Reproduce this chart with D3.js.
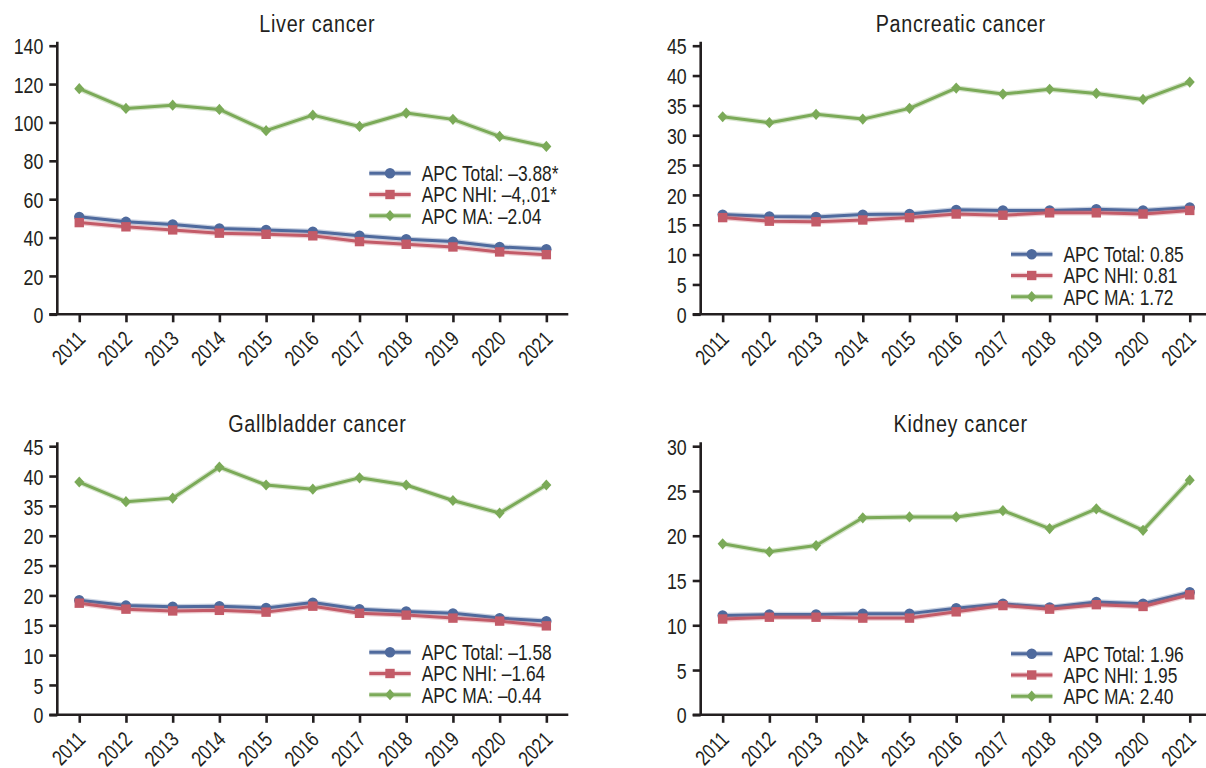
<!DOCTYPE html>
<html>
<head>
<meta charset="utf-8">
<script src="https://cdn.jsdelivr.net/npm/d3@7"></script>
<style>
  html, body { margin: 0; padding: 0; background: #fff; }
  svg { display: block; }
  text { font-family: "Liberation Sans", Arial, sans-serif; fill: #231f20; }
</style>
</head>
<body>
<svg id="chart" width="1206" height="768"></svg>
<script>
// Incidence per year, 2011-2021
const years = ["2011","2012","2013","2014","2015","2016","2017","2018","2019","2020","2021"];

const liverTotal = [50.8, 48.2, 46.8, 44.7, 44.0, 43.1, 41.0, 39.1, 37.9, 35.1, 33.9];
const liverNHI   = [47.8, 45.6, 44.0, 42.3, 41.7, 40.9, 37.9, 36.5, 35.1, 32.5, 31.1];
const liverMA    = [117.6, 107.3, 109.0, 106.8, 95.7, 103.8, 97.9, 104.9, 101.6, 92.7, 87.5];

const pancTotal = [16.7, 16.4, 16.3, 16.7, 16.8, 17.5, 17.4, 17.4, 17.6, 17.4, 17.9];
const pancNHI   = [16.2, 15.6, 15.5, 15.8, 16.2, 16.8, 16.6, 17.0, 17.0, 16.8, 17.4];
const pancMA    = [33.1, 32.1, 33.5, 32.7, 34.5, 37.9, 36.9, 37.7, 37.0, 36.0, 38.9];

const gallTotal = [19.2, 18.3, 18.1, 18.2, 17.9, 18.8, 17.7, 17.3, 17.0, 16.2, 15.7];
const gallNHI   = [18.7, 17.7, 17.4, 17.5, 17.2, 18.2, 17.0, 16.7, 16.2, 15.7, 14.9];
const gallMA    = [39.0, 35.7, 36.3, 41.5, 38.5, 37.8, 39.7, 38.5, 35.9, 33.8, 38.5];

const kidTotal = [11.1, 11.2, 11.2, 11.3, 11.3, 11.9, 12.4, 12.0, 12.6, 12.4, 13.7];
const kidNHI   = [10.7, 10.9, 10.9, 10.8, 10.8, 11.5, 12.2, 11.8, 12.3, 12.1, 13.4];
const kidMA    = [19.1, 18.2, 18.9, 22.0, 22.1, 22.1, 22.8, 20.8, 23.0, 20.6, 26.2];

// y-axis ticks and their printed labels
const liverTicks = [0, 20, 40, 60, 80, 100, 120, 140];
const pancTicks  = [0, 5, 10, 15, 20, 25, 30, 35, 40, 45];
const gallTicks  = [0, 5, 10, 15, 20, 25, 30, 35, 40, 45];
const gallTickLabels = ["0", "5", "10", "15", "20", "25", "20", "35", "40", "45"];
const kidTicks   = [0, 5, 10, 15, 20, 25, 30];

const titles = ["Liver cancer", "Pancreatic cancer", "Gallbladder cancer", "Kidney cancer"];
const liverLegend = ["APC Total: \u20133.88*", "APC NHI: \u20134,.01*", "APC MA: \u20132.04"];
const pancLegend  = ["APC Total: 0.85", "APC NHI: 0.81", "APC MA: 1.72"];
const gallLegend  = ["APC Total: \u20131.58", "APC NHI: \u20131.64", "APC MA: \u20130.44"];
const kidLegend   = ["APC Total: 1.96", "APC NHI: 1.95", "APC MA: 2.40"];

const seriesColors = ["#4f6a9d", "#c35b68", "#7baa58"];
const seriesShapes = ["circle", "square", "diamond"];

const panels = [
  { title: titles[0], series: [liverTotal, liverNHI, liverMA], ticks: liverTicks, tickLabels: null, legend: liverLegend,
    left: 57.3, bottom: 314.3, legendX: 369.3, legendY: 173.3 },
  { title: titles[1], series: [pancTotal, pancNHI, pancMA], ticks: pancTicks, tickLabels: null, legend: pancLegend,
    left: 700.7, bottom: 314.3, legendX: 1011, legendY: 254.3 },
  { title: titles[2], series: [gallTotal, gallNHI, gallMA], ticks: gallTicks, tickLabels: gallTickLabels, legend: gallLegend,
    left: 57.3, bottom: 714.8, legendX: 369.3, legendY: 652.3 },
  { title: titles[3], series: [kidTotal, kidNHI, kidMA], ticks: kidTicks, tickLabels: null, legend: kidLegend,
    left: 700.7, bottom: 714.8, legendX: 1011, legendY: 653.8 }
];

const plotW = 511;      // y-axis to end of x-axis
const plotH = 268.6;    // zero line to top tick
const axisColor = "#231f20";
const narrow = 0.79;    // horizontal squeeze for a condensed look

// marker path generator, centred at origin
function markerPath(shape) {
  if (shape === "circle") return d3.symbol(d3.symbolCircle, Math.PI * 5.2 * 5.2)();
  if (shape === "square") return d3.symbol(d3.symbolSquare, 9.4 * 9.4)();
  const w = 5, h = 5.6;
  return `M0,${-h}L${w},0L0,${h}L${-w},0Z`;
}

const svg = d3.select("#chart");

panels.forEach(p => {
  const g = svg.append("g");
  const yMax = p.ticks[p.ticks.length - 1];

  const x = d3.scalePoint().domain(years).range([p.left, p.left + plotW]).padding(0.47);
  const y = d3.scaleLinear().domain([0, yMax]).range([p.bottom, p.bottom - plotH]);

  // title
  g.append("text")
    .attr("transform", `translate(${p.left + 260},${p.bottom - 282.6}) scale(0.86,1)`)
    .attr("text-anchor", "middle")
    .style("font-size", "23px")
    .style("letter-spacing", "0.8px")
    .text(p.title);

  // y axis
  const yAxis = d3.axisLeft(y)
    .tickValues(p.ticks)
    .tickSize(8)
    .tickSizeOuter(0)
    .tickPadding(6)
    .tickFormat((d, i) => p.tickLabels ? p.tickLabels[i] : String(d));
  const ya = g.append("g").attr("transform", `translate(${p.left},0)`).call(yAxis);
  ya.select(".domain").remove();
  ya.selectAll(".tick line").attr("stroke", axisColor).attr("stroke-width", 2.6);
  ya.selectAll(".tick text")
    .style("font-size", "22.5px").attr("fill", axisColor)
    .attr("x", 0).attr("dy", "0.36em")
    .attr("transform", `translate(-14,0) scale(${narrow},1)`);
  g.append("line")
    .attr("x1", p.left).attr("x2", p.left)
    .attr("y1", y(0)).attr("y2", y(yMax) - 4)
    .attr("stroke", axisColor).attr("stroke-width", 2.6);

  // x axis
  const xAxis = d3.axisBottom(x).tickSize(8).tickSizeOuter(0);
  const xa = g.append("g").attr("transform", `translate(0,${p.bottom})`).call(xAxis);
  xa.select(".domain").remove();
  xa.selectAll(".tick line").attr("stroke", axisColor).attr("stroke-width", 2.6);
  xa.selectAll(".tick text")
    .style("font-size", "21.5px")
    .attr("fill", axisColor)
    .attr("text-anchor", "end")
    .attr("y", 0).attr("dy", 0)
    .attr("transform", `translate(7,26) rotate(-45) scale(${narrow},1)`);
  g.append("line")
    .attr("x1", p.left - 8).attr("x2", Math.min(p.left + plotW, 1206))
    .attr("y1", y(0)).attr("y2", y(0))
    .attr("stroke", axisColor).attr("stroke-width", 2.6);

  // series lines and markers
  const line = d3.line().x((d, i) => x(years[i])).y(d => y(d));
  p.series.forEach((vals, si) => {
    const c = seriesColors[si];
    g.append("path").attr("d", line(vals)).attr("fill", "none")
      .attr("stroke", c).attr("stroke-opacity", 0.3).attr("stroke-width", 5.5).attr("stroke-linejoin", "round");
    g.append("path").attr("d", line(vals)).attr("fill", "none")
      .attr("stroke", c).attr("stroke-width", 3).attr("stroke-linejoin", "round");
    g.selectAll(null).data(vals).enter().append("path")
      .attr("d", markerPath(seriesShapes[si]))
      .attr("transform", (d, i) => `translate(${x(years[i])},${y(d)})`)
      .attr("fill", c);
  });

  // legend
  p.legend.forEach((label, si) => {
    const ly = p.legendY + si * 21.2;
    const c = seriesColors[si];
    g.append("line").attr("x1", p.legendX).attr("x2", p.legendX + 41.4)
      .attr("y1", ly).attr("y2", ly).attr("stroke", c).attr("stroke-opacity", 0.3).attr("stroke-width", 5.5);
    g.append("line").attr("x1", p.legendX).attr("x2", p.legendX + 41.4)
      .attr("y1", ly).attr("y2", ly).attr("stroke", c).attr("stroke-width", 3);
    g.append("path").attr("d", markerPath(seriesShapes[si]))
      .attr("transform", `translate(${p.legendX + 20.7},${ly})`).attr("fill", c);
    g.append("text")
      .attr("transform", `translate(${p.legendX + 52.4},${ly}) scale(${narrow},1)`)
      .attr("dy", "0.36em")
      .style("font-size", "22px").text(label);
  });
});
</script>
</body>
</html>
